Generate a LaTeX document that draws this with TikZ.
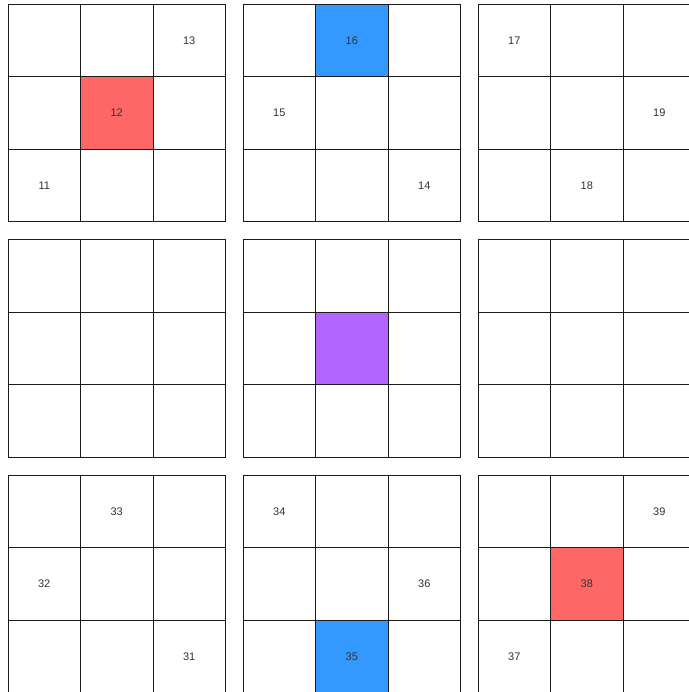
\documentclass[tikz,border=0pt]{standalone}
\usepackage{fontspec}
\setmainfont{Liberation Sans}
\usepackage{xcolor}
\definecolor{Ink}{HTML}{333333}
\definecolor{Grid}{HTML}{1A1A1A}
\definecolor{HitRed}{HTML}{FF6666}
\definecolor{HitBlue}{HTML}{3399FF}
\definecolor{HitPurple}{HTML}{B266FF}
\tikzset{
 cell/.style={draw=Grid, line width=0.5pt, minimum size=36.25pt, inner sep=0pt},
 tag/.style={inner sep=0pt, text=Ink, font=\fontsize{5.5}{6.6}\selectfont},
 % coloured cells, block row/col then cell row/col
 tone-0011/.style={fill=HitRed},
 tone-0101/.style={fill=HitBlue},
 tone-1111/.style={fill=HitPurple},
 tone-2121/.style={fill=HitBlue},
 tone-2211/.style={fill=HitRed}
}

\begin{document}
\begin{tikzpicture}[x=0.5pt,y=-0.5pt]
\useasboundingbox (0,0) rectangle (689,692);
\fill[white] (0,0) rectangle (689,692);
\clip (0,0) rectangle (689,692);
% nine 3x3 blocks
\foreach \bi in {0,1,2}
 \foreach \bj in {0,1,2}
  \foreach \r in {0,1,2}
   \foreach \c in {0,1,2}
    \node[cell, tone-\bi\bj\r\c/.try] (c\bi\bj\r\c) at ({8+235*\bj+72.5*\c+36.25}, {4+235.5*\bi+72.5*\r+36.25}) {};
% top row
\node[tag] at (c0002) {13};
\node[tag] at (c0011) {12};
\node[tag] at (c0020) {11};
\node[tag] at (c0101) {16};
\node[tag] at (c0110) {15};
\node[tag] at (c0122) {14};
\node[tag] at (c0200) {17};
\node[tag] at (c0212) {19};
\node[tag] at (c0221) {18};
% bottom row
\node[tag] at (c2001) {33};
\node[tag] at (c2010) {32};
\node[tag] at (c2022) {31};
\node[tag] at (c2100) {34};
\node[tag] at (c2112) {36};
\node[tag] at (c2121) {35};
\node[tag] at (c2202) {39};
\node[tag] at (c2211) {38};
\node[tag] at (c2220) {37};
\end{tikzpicture}
\end{document}
